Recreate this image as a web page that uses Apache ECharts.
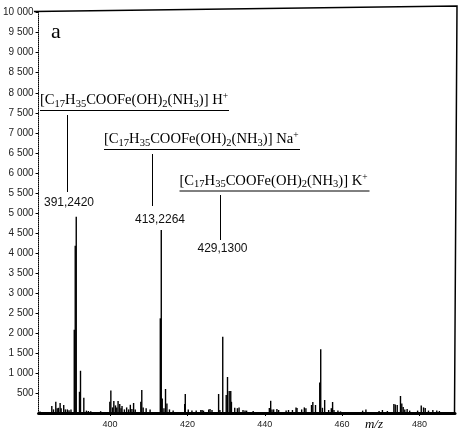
<!DOCTYPE html>
<html>
<head>
<meta charset="utf-8">
<script src="https://cdn.jsdelivr.net/npm/echarts@6/dist/echarts.min.js"></script>
<style>
    html, body { margin: 0; padding: 0; background: #fff; }
    #main { width: 459px; height: 435px; }
</style>
</head>
<body>
<div id="main"></div>
<script>
// m/z of every stick
var peakMz = [
    381.86, 384.92, 385.36, 385.95, 386.31, 386.64, 387.07, 387.33, 388.0, 388.43, 388.94, 389.37, 389.88,
    390.73, 390.98, 391.24, 392.08, 392.34, 393.2, 393.87, 394.38, 394.99, 397.55,
    399.93, 400.19, 400.62, 400.96, 401.39, 401.72, 402.06, 402.49, 402.82, 403.08, 403.69, 404.28, 404.79,
    405.23, 405.64, 406.07, 406.5, 407.94, 408.19, 408.55, 409.32, 410.34,
    412.98, 413.23, 413.48, 413.92, 414.33, 414.69, 415.35, 416.3,
    419.29, 419.44, 420.21, 421.16, 422.26, 423.46, 423.79, 424.15, 425.5, 425.84, 426.35,
    428.06, 428.39, 429.13, 430.03, 430.36, 430.8, 431.2, 431.38, 432.23, 432.92, 433.35, 434.37, 434.89, 435.3, 437.0,
    441.18, 441.53, 441.87, 442.3, 443.14, 443.58, 445.52, 446.14, 447.16, 448.08, 448.34, 449.54, 450.23, 450.64,
    452.09, 452.43, 453.12, 454.22, 454.47, 454.91, 455.49, 456.52, 457.21, 457.54, 457.9, 458.92, 459.59,
    465.31, 466.16, 469.56, 470.43, 471.71, 473.39, 473.75, 474.26, 475.1, 475.44, 475.8, 476.21, 476.82, 477.48,
    479.53, 480.47, 481.06, 481.5, 482.34, 483.47, 484.49, 485.16
];
// intensity of each stick, same order
var peakIntensity = [
    40, 175, 90, 280, 120, 130, 250, 120, 200, 90, 90, 70, 90,
    2080, 4180, 4900, 530, 1055, 380, 60, 50, 45, 45,
    280, 560, 140, 300, 190, 140, 300, 225, 120, 175, 90, 140, 90,
    205, 100, 250, 90, 280, 575, 140, 120, 90,
    2365, 4570, 365, 120, 600, 240, 90, 60,
    225, 475, 90, 60, 60, 75, 75, 60, 90, 100, 75,
    475, 75, 1905, 450, 900, 550, 550, 280, 130, 120, 140, 75, 60, 60, 50,
    125, 305, 90, 90, 100, 75, 60, 75, 75, 140, 125, 90, 140, 120,
    200, 275, 200, 765, 1590, 130, 325, 75, 120, 275, 75, 60, 40,
    60, 90, 50, 75, 50, 225, 215, 200, 425, 240, 150, 90, 100, 60,
    60, 190, 140, 125, 60, 75, 60, 50
];

var xTicks = [400, 420, 440, 460, 480];

// annotated ions
var ionNames = ['H', 'Na', 'K'];
var ionMzText = ['391,2420', '413,2264', '429,1300'];

var data = [];
for (var i = 0; i < peakMz.length; i++) {
    data.push([peakMz[i], peakIntensity[i]]);
}

function ionLabel(ion) {
    return '{m|[C}{s|17}{m|H}{s|35}{m|COOFe(OH)}{s|2}{m|(NH}{s|3}{m|)] ' + ion + '}{p|+}';
}

var richStyle = {
    m: { fontSize: 14.6, fontFamily: 'Liberation Serif', lineHeight: 18, fill: '#000' },
    s: { fontSize: 10.5, fontFamily: 'Liberation Serif', lineHeight: 10, verticalAlign: 'bottom', fill: '#000' },
    p: { fontSize: 9.5, fontFamily: 'Liberation Serif', lineHeight: 9, verticalAlign: 'top', fill: '#000' }
};

// where each annotation sits on the page
var annLayout = [
    { tx: 40, uy: 110.5, ux2: 229, lx: 67.5, ly1: 115, ly2: 192, nx: 69, ny: 203 },
    { tx: 104, uy: 149.5, ux2: 300, lx: 152.5, ly1: 154, ly2: 206, nx: 160, ny: 219.5 },
    { tx: 179.5, uy: 191, ux2: 369.5, lx: 220.5, ly1: 195, ly2: 240, nx: 222.5, ny: 248.5 }
];

var graphics = [
    // frame top and right (scan is a bit skewed)
    {
        type: 'polyline',
        shape: { points: [[34, 11.5], [457, 6], [454.5, 413]] },
        style: { stroke: '#000', lineWidth: 1.5, fill: null }
    },
    {
        type: 'text', x: 56, y: 32,
        style: { text: 'a', font: '22px "Liberation Serif"', fill: '#000', align: 'center', verticalAlign: 'middle' }
    },
    {
        type: 'text', x: 374, y: 425,
        style: { text: 'm/z', font: 'italic 13px "Liberation Serif"', fill: '#000', align: 'center', verticalAlign: 'middle' }
    }
];

annLayout.forEach(function (a, k) {
    graphics.push({
        type: 'text', x: a.tx, y: a.uy - 1,
        style: { text: ionLabel(ionNames[k]), rich: richStyle, align: 'left', verticalAlign: 'bottom' }
    });
    graphics.push({
        type: 'line',
        shape: { x1: a.tx, y1: a.uy, x2: a.ux2, y2: a.uy },
        style: { stroke: '#000', lineWidth: 1 }
    });
    graphics.push({
        type: 'line',
        shape: { x1: a.lx, y1: a.ly1, x2: a.lx, y2: a.ly2 },
        style: { stroke: '#000', lineWidth: 1 }
    });
    graphics.push({
        type: 'text', x: a.nx, y: a.ny,
        style: { text: ionMzText[k], font: '12px "Liberation Sans"', fill: '#111', align: 'center', verticalAlign: 'middle' }
    });
});

var chart = echarts.init(document.getElementById('main'));
var option = {
    animation: false,
    backgroundColor: '#fff',
    grid: { left: 34, right: 4, top: 12.7, bottom: 22, containLabel: false },
    xAxis: {
        type: 'value',
        min: 381.5,
        max: 489.2,
        axisLine: { lineStyle: { color: '#000', width: 3 } },
        axisTick: { customValues: xTicks, length: 3, lineStyle: { color: '#000' } },
        axisLabel: {
            customValues: xTicks,
            formatter: function (v) { return String(v); },
            fontSize: 9, fontFamily: 'Liberation Sans', color: '#222', margin: 7
        },
        splitLine: { show: false }
    },
    yAxis: {
        type: 'value',
        min: 0,
        max: 10000,
        interval: 500,
        axisLine: { show: true, lineStyle: { color: '#000', width: 1, type: [1, 1] } },
        axisTick: { show: true, length: 3, lineStyle: { color: '#000' } },
        axisLabel: {
            showMinLabel: false,
            formatter: function (v) {
                if (v === 0) return '';
                return String(v).replace(/\B(?=(\d{3})+(?!\d))/g, ' ');
            },
            fontSize: 10, fontFamily: 'Liberation Sans', color: '#222', margin: 5
        },
        splitLine: { show: false }
    },
    series: [{
        type: 'bar',
        data: data,
        barWidth: 1.4,
        itemStyle: { color: '#000' },
        silent: true
    }],
    graphic: graphics
};
chart.setOption(option);
</script>
</body>
</html>
